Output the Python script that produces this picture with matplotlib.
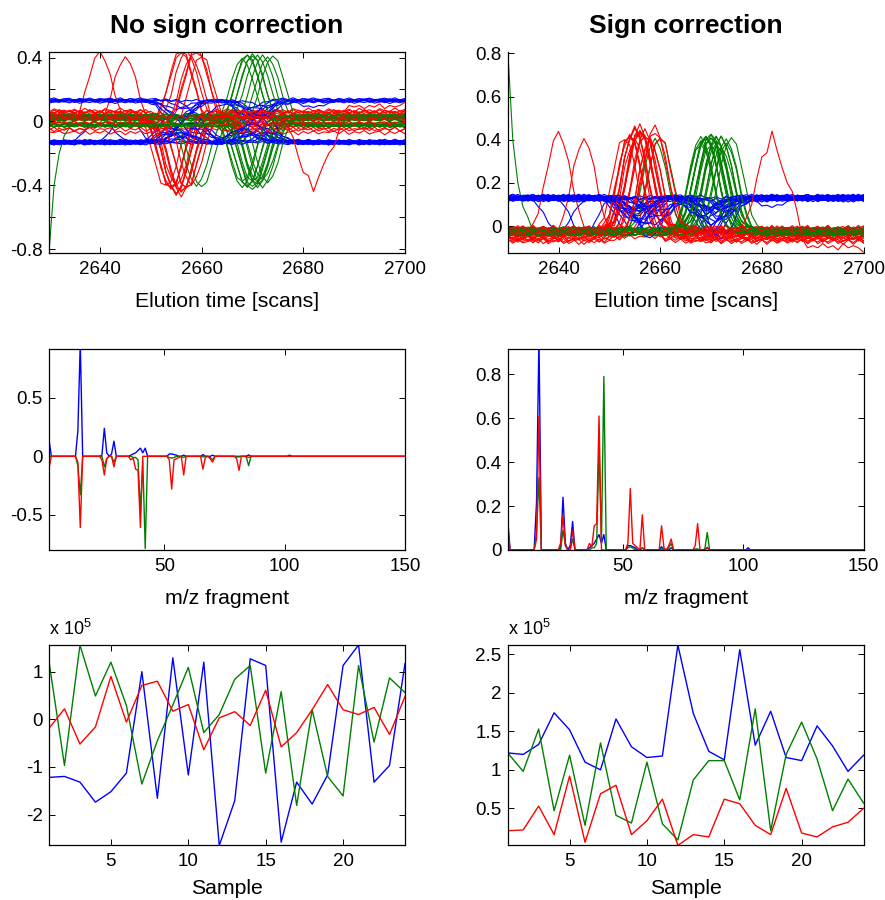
"""
Sign correction figure: elution profiles, mass spectra and sample scores
for the three resolved components, before and after sign correction.
"""

import numpy as np
import matplotlib.pyplot as plt
from matplotlib.ticker import FixedLocator, FuncFormatter

plt.rcParams['font.family'] = ['Liberation Sans', 'DejaVu Sans']
plt.rcParams['axes.unicode_minus'] = False
plt.rcParams['mathtext.fontset'] = 'custom'
plt.rcParams['mathtext.rm'] = 'Liberation Sans'

BLUE, GREEN, RED = '#0000ff', '#008000', '#ff0000'

# ---------------- scores (x 1e5) ----------------
samples = np.arange(1, 25)
blue_score_raw = [-1.22, -1.20, -1.32, -1.74, -1.52, -1.13, 1.00, -1.66, 1.29, -1.17, 1.20, -2.65,
                  -1.71, 1.27, 1.13, -2.58, -1.32, -1.78, -1.17, 1.13, 1.56, -1.32, -0.97, 1.17]
green_score_raw = [1.21, -0.97, 1.56, 0.49, 1.20, 0.29, -1.36, -0.45, 0.30, 1.09, -0.28, 0.10,
                   0.84, 1.13, -1.13, 0.58, -1.81, 0.20, -1.20, -1.61, 1.13, -0.48, 0.87, 0.56]
red_score_raw = [-0.19, 0.22, -0.52, -0.16, 0.90, -0.06, 0.71, 0.80, 0.17, 0.31, -0.64, 0.03,
                 0.16, -0.13, 0.61, -0.58, -0.28, 0.20, 0.73, 0.20, 0.10, 0.25, -0.32, 0.48]

blue_score_fix = [1.22, 1.20, 1.33, 1.74, 1.52, 1.10, 1.00, 1.66, 1.30, 1.16, 1.18, 2.62,
                  1.73, 1.24, 1.13, 2.56, 1.32, 1.76, 1.16, 1.12, 1.57, 1.31, 0.98, 1.19]
green_score_fix = [1.22, 0.98, 1.53, 0.47, 1.19, 0.28, 1.35, 0.41, 0.31, 1.10, 0.30, 0.09,
                   0.87, 1.12, 1.12, 0.61, 1.79, 0.21, 1.20, 1.62, 1.14, 0.47, 0.88, 0.57]
red_score_fix = [0.21, 0.22, 0.53, 0.16, 0.92, 0.06, 0.69, 0.80, 0.16, 0.34, 0.62, 0.02,
                 0.16, 0.13, 0.62, 0.56, 0.28, 0.16, 0.76, 0.18, 0.13, 0.26, 0.32, 0.50]

# ---------------- mass spectra (sign corrected magnitudes) ----------------
mz = np.arange(2, 151)
spec_mz = [2, 14, 15, 24, 25, 26, 28, 29, 36, 37, 38, 39, 40, 41, 42,
           52, 53, 54, 55, 56, 58, 66, 67, 69, 70, 80, 81, 84, 85, 102]
spec_blue = [0.14, 0.22, 0.97, 0.01, 0.24, 0.03, 0.02, 0.13, 0.01, 0.02, 0.03, 0.05, 0.07, 0.03, 0.07,
             0.02, 0.02, 0.015, 0.01, 0.0, 0.01, 0.015, 0.0, 0.0, 0.01, 0.0, 0.0, 0.0, 0.012, 0.01]
spec_red = [0.10, 0.05, 0.61, 0.03, 0.16, 0.02, 0.0, 0.09, 0.03, 0.015, 0.11, 0.12, 0.61, 0.0, 0.0,
            0.03, 0.28, 0.03, 0.02, 0.01, 0.16, 0.11, 0.01, 0.02, 0.05, 0.02, 0.12, 0.0, 0.01, 0.0]
spec_green = [0.0, 0.08, 0.33, 0.0, 0.09, 0.02, 0.0, 0.05, 0.0, 0.01, 0.01, 0.03, 0.47, 0.04, 0.79,
              0.01, 0.015, 0.01, 0.0, 0.0, 0.01, 0.005, 0.0, 0.01, 0.03, 0.005, 0.005, 0.005, 0.08, 0.0]
spec_sign = {'blue': 1, 'green': -1, 'red': -1}   # sign of each spectrum before correction

# ---------------- elution profiles (sign corrected) ----------------
scans = np.arange(2630, 2701)
peak_shape = [0.01, 0.03, 0.08, 0.2, 0.43, 0.7, 0.92, 1.0, 0.92, 0.7, 0.43, 0.2, 0.08, 0.03, 0.01]  # apex +-7 scans

red_apex = [2640, 2655, 2645, 2656, 2654, 2659, 2656, 2653, 2655, 2657, 2657, 2654,
            2656, 2660, 2655, 2658, 2656, 2657, 2654, 2656, 2655, 2658, 2659, 2682]
red_height = [0.46, 0.47, 0.45, 0.46, 0.48, 0.47, 0.46, 0.45, 0.47, 0.48, 0.46, 0.45,
              0.47, 0.46, 0.48, 0.47, 0.45, 0.46, 0.47, 0.46, 0.48, 0.45, 0.47, 0.0]
red_base = [-0.03, -0.02, -0.05, -0.01, -0.06, -0.03, -0.02, -0.04, -0.07, -0.06, -0.02, -0.03,
            -0.01, -0.05, -0.03, -0.07, -0.02, -0.04, -0.05, -0.02, -0.03, -0.06, -0.01, -0.03]
# sample 24 red profile, scans 2674..2700 (odd peak with a noisy tail)
red_odd_scans = np.arange(2674, 2701)
red_odd = [-0.03, -0.02, 0.0, 0.04, 0.10, 0.22, 0.32, 0.34, 0.44, 0.35, 0.27, 0.20, 0.16, 0.06,
           -0.06, -0.10, -0.09, -0.10, -0.08, -0.10, -0.09, -0.11, -0.08, -0.10, -0.09, -0.10, -0.12]

green_apex = [2669, 2668, 2670, 2671, 2672, 2668, 2670, 2673, 2670, 2659, 2669, 2671,
              2660, 2669, 2671, 2672, 2674, 2670, 2670, 2672, 2671, 2669, 2668, 2673]
green_height = [0.43, 0.42, 0.44, 0.43, 0.38, 0.42, 0.44, 0.43, 0.42, 0.43, 0.44, 0.42,
                0.43, 0.44, 0.42, 0.43, 0.44, 0.42, 0.43, 0.44, 0.42, 0.43, 0.44, 0.42]
green_base = [-0.02, -0.03, -0.01, -0.03, -0.02, -0.04, -0.02, -0.03, -0.01, -0.03, -0.02, -0.04,
              -0.02, -0.03, -0.01, -0.02, -0.03, -0.04, -0.02, -0.03, -0.01, -0.02, -0.03, -0.04]
# sample 5 green profile starts high at 2630..2634
green_start = [0.82, 0.40, 0.20, 0.09, 0.04]

blue_base = [0.13, 0.125, 0.135, 0.13, 0.14, 0.12, 0.13, 0.135, 0.125, 0.13, 0.14, 0.13,
             0.12, 0.135, 0.13, 0.125, 0.14, 0.13, 0.135, 0.12, 0.13, 0.14, 0.125, 0.13]
blue_dip = [0.16, 0.08, 0.18, 0.06, 0.10, 0.05, 0.12, 0.07, 0.15, 0.09, 0.06, 0.17,
            0.08, 0.10, 0.05, 0.18, 0.07, 0.12, 0.06, 0.09, 0.11, 0.05, 0.08, 0.04]

# small jitter seen on the baselines
wiggle = [0.0, 0.007, -0.005, 0.01, -0.008, 0.004, -0.002, 0.009, -0.007,
          0.002, 0.006, -0.01, 0.005, -0.004, 0.008, -0.006, 0.003]


def peak(apex):
    y = np.zeros(len(scans))
    for k, v in enumerate(peak_shape):
        t = apex - 7 + k
        if scans[0] <= t <= scans[-1]:
            y[t - scans[0]] = v
    return y


def jitter(i, amp):
    return amp * np.roll(np.resize(wiggle, len(scans)), 5 * i)


prof_blue, prof_green, prof_red = [], [], []
for i in range(24):
    r_pk = peak(red_apex[i])
    g_pk = peak(green_apex[i])
    red = red_base[i] + red_height[i] * r_pk + jitter(i, 1.4)
    if i == 23:
        red[red_odd_scans - scans[0]] = red_odd
    green = green_base[i] + green_height[i] * g_pk + jitter(i + 7, 0.7)
    if i == 4:
        green[:len(green_start)] = green_start
    blue = blue_base[i] - blue_dip[i] * (r_pk + g_pk) + jitter(i + 3, 0.8)
    prof_blue.append(blue)
    prof_green.append(green)
    prof_red.append(red)

# sign of each profile before correction follows from scores and spectra
sign_blue = np.sign(blue_score_raw) * spec_sign['blue']
sign_green = np.sign(green_score_raw) * spec_sign['green']
sign_red = np.sign(red_score_raw) * spec_sign['red']

# ---------------- figure ----------------
fig = plt.figure(figsize=(8.85, 9.0), dpi=100)
W, H = 885.0, 900.0
TICK_FS, LABEL_FS = 13.5, 15.3


def add_ax(left, top, right, bottom):
    return fig.add_axes([left / W, 1 - bottom / H, (right - left) / W, (bottom - top) / H])


def num(v):
    if abs(v) < 1e-9:
        return '0'
    return '%g' % round(v, 6)


def style(ax, xticks, yticks, ylabels=None, box=True):
    ax.xaxis.set_major_locator(FixedLocator(xticks))
    ax.yaxis.set_major_locator(FixedLocator(yticks))
    ax.xaxis.set_major_formatter(FuncFormatter(lambda v, _: num(v)))
    if ylabels is None:
        ax.yaxis.set_major_formatter(FuncFormatter(lambda v, _: num(v)))
    else:
        ax.yaxis.set_major_formatter(FuncFormatter(
            lambda v, _: num(v) if any(abs(v - l) < 1e-9 for l in ylabels) else ''))
    ax.tick_params(direction='in', length=4.5, width=0.7, labelsize=TICK_FS,
                   top=box, right=box)
    ax.tick_params(axis='x', pad=5.5)
    ax.tick_params(axis='y', pad=4.5)
    for s in ax.spines.values():
        s.set_linewidth(0.9)
    if not box:
        ax.spines['top'].set_visible(False)
        ax.spines['right'].set_visible(False)


lw = 0.8
# top row: elution profiles
ax1 = add_ax(49, 52, 405, 253)
ax2 = add_ax(507.7, 52, 863.5, 253)
for i in range(24):
    ax1.plot(scans, sign_blue[i] * prof_blue[i], color=BLUE, lw=lw)
    ax1.plot(scans, sign_green[i] * prof_green[i], color=GREEN, lw=lw)
    ax1.plot(scans, sign_red[i] * prof_red[i], color=RED, lw=lw)
    ax2.plot(scans, prof_blue[i], color=BLUE, lw=lw)
    ax2.plot(scans, prof_green[i], color=GREEN, lw=lw)
    ax2.plot(scans, prof_red[i], color=RED, lw=lw)
for ax in (ax1, ax2):
    ax.set_xlim(2630, 2700)
    ax.set_xlabel('Elution time [scans]', fontsize=LABEL_FS, labelpad=10)
ax1.set_ylim(-0.825, 0.435)
ax2.set_ylim(-0.124, 0.806)
style(ax1, [2640, 2660, 2680, 2700], np.arange(-0.8, 0.41, 0.2), ylabels=[-0.8, -0.4, 0, 0.4])
style(ax2, [2640, 2660, 2680, 2700], [0, 0.2, 0.4, 0.6, 0.8], box=False)
ax1.set_title('No sign correction', fontsize=19, fontweight='bold', pad=13.5)
ax2.set_title('Sign correction', fontsize=19, fontweight='bold', pad=13.5)

# middle row: spectra
full = {}
for name, vals in (('blue', spec_blue), ('green', spec_green), ('red', spec_red)):
    arr = np.zeros(len(mz))
    arr[np.array(spec_mz) - mz[0]] = vals
    full[name] = arr

ax3 = add_ax(49, 349, 405, 550)
ax4 = add_ax(507.7, 349, 863.5, 550)
for name, col in (('blue', BLUE), ('green', GREEN), ('red', RED)):
    ax3.plot(mz, spec_sign[name] * full[name], color=col, lw=1.0)
    ax4.plot(mz, full[name], color=col, lw=1.0)
for ax in (ax3, ax4):
    ax.set_xlim(2, 150)
    ax.set_xlabel('m/z fragment', fontsize=LABEL_FS, labelpad=10)
ax3.set_ylim(-0.803, 0.92)
ax4.set_ylim(0, 0.915)
style(ax3, [50, 100, 150], [-0.5, 0, 0.5])
style(ax4, [50, 100, 150], [0, 0.2, 0.4, 0.6, 0.8])

# bottom row: scores
ax5 = add_ax(49, 645, 405, 845)
ax6 = add_ax(507.7, 645, 863.5, 845)
ax5.plot(samples, blue_score_raw, color=BLUE, lw=1.0)
ax5.plot(samples, green_score_raw, color=GREEN, lw=1.0)
ax5.plot(samples, red_score_raw, color=RED, lw=1.0)
ax6.plot(samples, blue_score_fix, color=BLUE, lw=1.0)
ax6.plot(samples, green_score_fix, color=GREEN, lw=1.0)
ax6.plot(samples, red_score_fix, color=RED, lw=1.0)
for ax in (ax5, ax6):
    ax.set_xlim(1, 24)
    ax.set_xlabel('Sample', fontsize=LABEL_FS, labelpad=7)
    ax.text(0, 1.05, r'x 10$^{5}$', transform=ax.transAxes, fontsize=13,
            ha='left', va='baseline')
ax5.set_ylim(-2.64, 1.56)
ax6.set_ylim(0.025, 2.62)
style(ax5, [5, 10, 15, 20], [-2, -1, 0, 1])
style(ax6, [5, 10, 15, 20], [0.5, 1, 1.5, 2, 2.5])

fig.savefig('out.png', dpi=100)
